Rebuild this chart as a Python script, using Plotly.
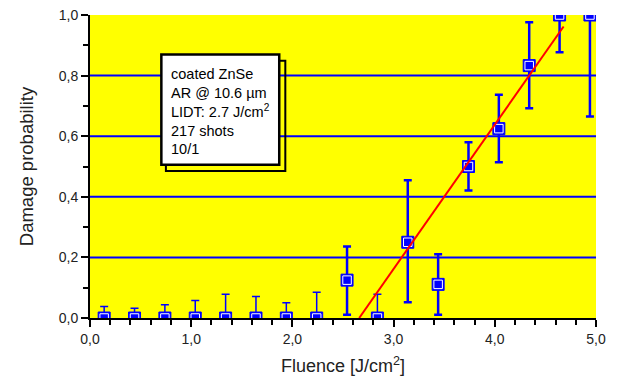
import plotly.graph_objects as go

# Laser damage test: fluence steps and measured damage probability
fluence = [0.14, 0.44, 0.74, 1.04, 1.34, 1.64, 1.94, 2.24, 2.54,
           2.84, 3.14, 3.44, 3.74, 4.04, 4.34, 4.64, 4.94]
probability = [0, 0, 0, 0, 0, 0, 0, 0, 0.125,
               0, 0.25, 0.111, 0.5, 0.625, 0.833, 1.0, 1.0]
upper = [0.038, 0.032, 0.044, 0.058, 0.078, 0.071, 0.050, 0.085, 0.236,
         0.078, 0.455, 0.21, 0.58, 0.737, 0.976, 1.0, 1.0]
lower = [0, 0, 0, 0, 0, 0, 0, 0, 0.011,
         0, 0.052, 0.011, 0.421, 0.514, 0.692, 0.877, 0.665]

# Linear fit of the damage onset
fit_x = [2.66, 4.68]
fit_y = [0.0, 0.962]

grid_levels = [0.2, 0.4, 0.6, 0.8]
x_ticks = [0, 1, 2, 3, 4, 5]
y_ticks = [0, 0.2, 0.4, 0.6, 0.8, 1.0]

info_lines = ["coated ZnSe", "AR @ 10.6 µm", "LIDT: 2.7 J/cm<sup>2</sup>",
              "217 shots", "10/1"]

BLUE = "#0000FF"
FONT = "Liberation Sans, Arial, sans-serif"

fig = go.Figure()


def add_points(idx, thick):
    xs = [fluence[i] for i in idx]
    ys = [probability[i] for i in idx]
    plus = [upper[i] - probability[i] for i in idx]
    minus = [probability[i] - lower[i] for i in idx]
    fig.add_trace(go.Scatter(
        x=xs, y=ys, mode="markers",
        marker=dict(symbol="square", size=12, color=BLUE,
                    line=dict(color=BLUE, width=1)),
        error_y=dict(type="data", symmetric=False, array=plus,
                     arrayminus=minus, color=BLUE, thickness=thick, width=4),
        showlegend=False, hoverinfo="skip"))
    fig.add_trace(go.Scatter(
        x=xs, y=ys, mode="markers",
        marker=dict(symbol="square-open", size=8.5, color="white",
                    line=dict(color="white", width=1)),
        showlegend=False, hoverinfo="skip"))


zero_idx = [i for i, p in enumerate(probability) if p == 0]
hit_idx = [i for i, p in enumerate(probability) if p > 0]
add_points(zero_idx, 1.5)
add_points(hit_idx, 2.5)

fig.add_trace(go.Scatter(x=fit_x, y=fit_y, mode="lines",
                         line=dict(color="#FF0000", width=2),
                         showlegend=False, hoverinfo="skip"))

shapes = []
for g in grid_levels:
    shapes.append(dict(type="line", xref="paper", yref="y", x0=0, x1=1,
                       y0=g, y1=g, line=dict(color=BLUE, width=2),
                       layer="below"))
# info box with offset frame behind it
shapes.append(dict(type="rect", xref="x", yref="y", x0=0.75, x1=1.93,
                   y0=0.485, y1=0.849, line=dict(color="black", width=2),
                   fillcolor="rgba(0,0,0,0)"))
shapes.append(dict(type="rect", xref="x", yref="y", x0=0.705, x1=1.87,
                   y0=0.506, y1=0.870, line=dict(color="black", width=2.5),
                   fillcolor="white"))

fig.add_annotation(x=0.78, y=0.838, xref="x", yref="y",
                   xanchor="left", yanchor="top", align="left",
                   text="<br>".join(info_lines), showarrow=False,
                   font=dict(family=FONT, size=14.5, color="black"))

fig.update_layout(
    width=618, height=386,
    margin=dict(l=90, r=22, t=15, b=68),
    paper_bgcolor="white", plot_bgcolor="#FFFF00",
    separators=",.",
    font=dict(family=FONT, size=14, color="black"),
    shapes=shapes,
    xaxis=dict(range=[0, 5], tickvals=x_ticks, tickformat=".1f",
               automargin=False,
               showgrid=False, zeroline=False, showline=True,
               linecolor="black", linewidth=2, ticks="outside",
               ticklen=7, tickwidth=2, tickcolor="black",
               tickfont=dict(size=14, color="#222222"),
               minor=dict(dtick=0.2, ticks="outside", ticklen=5,
                          tickwidth=1.5, tickcolor="black"),
               title=dict(text="Fluence [J/cm<sup>2</sup>]",
                          font=dict(size=18, color="#222222"), standoff=14)),
    yaxis=dict(range=[0, 1], tickvals=y_ticks, tickformat=".1f",
               automargin=False,
               showgrid=False, zeroline=False, showline=True,
               linecolor="black", linewidth=2, ticks="outside",
               ticklen=7, tickwidth=2, tickcolor="black",
               tickfont=dict(size=14, color="#222222"),
               minor=dict(dtick=0.1, ticks="outside", ticklen=5,
                          tickwidth=1.5, tickcolor="black"),
               title=dict(text="Damage probability",
                          font=dict(size=18.5, color="#222222"),
                          standoff=20)),
)

fig.write_html("out.html")
